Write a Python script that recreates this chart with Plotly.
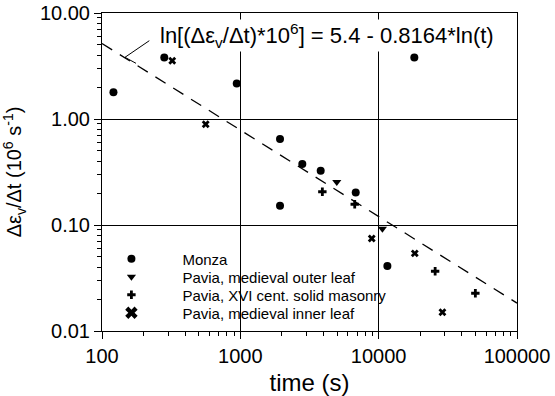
import math
import plotly.graph_objects as go

# ---- data ----
monza_t = [121, 282, 942, 1936, 2806, 3810, 6825, 1936, 11560, 18100]
monza_r = [1.79, 3.80, 2.16, 0.648, 0.377, 0.325, 0.203, 0.152, 0.041, 3.80]

outer_t = [4980, 10640]
outer_r = [0.255, 0.092]

xvi_t = [3917, 6713, 25600, 50000]
xvi_r = [0.206, 0.157, 0.0366, 0.0227]

inner_t = [322, 562, 8910, 18240, 28900]
inner_r = [3.54, 0.893, 0.0746, 0.054, 0.01503]

fit_a = 5.4
fit_b = 0.8164
fit_t = [100, 100000]
fit_r = [math.exp(fit_a - fit_b * math.log(t)) for t in fit_t]

series_names = ["Monza", "Pavia, medieval outer leaf",
                "Pavia, XVI cent. solid masonry", "Pavia, medieval inner leaf"]

FONT = "Liberation Sans, Arial, sans-serif"

fig = go.Figure()

fig.add_trace(go.Scatter(x=fit_t, y=fit_r, mode="lines", showlegend=False,
                         line=dict(color="black", width=1.3, dash="12px,9px")))

fig.add_trace(go.Scatter(x=monza_t, y=monza_r, mode="markers", name=series_names[0], legend="legend",
                         marker=dict(symbol="circle", size=8, color="black")))
fig.add_trace(go.Scatter(x=outer_t, y=outer_r, mode="markers", name=series_names[1], legend="legend2",
                         marker=dict(symbol="triangle-down", size=8, color="black")))
fig.add_trace(go.Scatter(x=xvi_t, y=xvi_r, mode="markers", name=series_names[2], legend="legend3",
                         marker=dict(symbol="cross", size=7, color="black")))
fig.add_trace(go.Scatter(x=inner_t, y=inner_r, mode="markers", showlegend=False,
                         marker=dict(symbol="x", size=7, color="black")))
# legend entry for the inner leaf (larger symbol in the legend)
fig.add_trace(go.Scatter(x=[None], y=[None], mode="markers", name=series_names[3], legend="legend4",
                         marker=dict(symbol="x", size=11, color="black")))

axis_common = dict(
    type="log", showline=True, linecolor="black", linewidth=1, mirror=True,
    showgrid=True, gridcolor="black", gridwidth=1,
    ticks="outside", ticklen=7, tickwidth=1, tickcolor="black",
    dtick=1, zeroline=False, automargin=False, ticklabeloverflow="allow",
    tickfont=dict(family=FONT, size=20, color="black"),
    minor=dict(dtick="D1", ticks="outside", ticklen=4, tickcolor="black", showgrid=False),
)

fig.update_xaxes(**axis_common, range=[2, 5], tickformat="d",
                 title=dict(text="time (s)", font=dict(family=FONT, size=24, color="black"), standoff=8))
fig.update_yaxes(**axis_common, range=[-2, 1], tickformat=".2f",
                 title=dict(text="Δε<sub>v</sub>/Δt (10<sup>6</sup> s<sup>-1</sup>)",
                            font=dict(family=FONT, size=20, color="black"), standoff=21))

fig.add_annotation(xref="paper", yref="paper", x=0.541, y=0.928, xanchor="center", yanchor="middle",
                   text="ln[(Δε<sub>v</sub>/Δt)*10<sup>6</sup>] = 5.4 - 0.8164*ln(t)",
                   showarrow=False, bgcolor="white", borderpad=0,
                   font=dict(family=FONT, size=22, color="black"))

fig.add_shape(type="line", xref="paper", yref="paper", x0=0.0554, y0=0.8607, x1=0.114, y1=0.9129,
              line=dict(color="black", width=1))
fig.add_shape(type="line", xref="paper", yref="paper", x0=0.0554, y0=0.8607, x1=0.0819, y1=0.8418,
              line=dict(color="black", width=1))

legend_style = dict(x=-0.052, xanchor="left", yanchor="middle", bgcolor="rgba(0,0,0,0)",
                    font=dict(family=FONT, size=15, color="black"), itemwidth=92)

fig.update_layout(
    width=555, height=396,
    margin=dict(l=102, r=38, t=13, b=65),
    paper_bgcolor="white", plot_bgcolor="white",
    font=dict(family=FONT, color="black"),
    legend=dict(y=0.2264, **legend_style),
    legend2=dict(y=0.1698, **legend_style),
    legend3=dict(y=0.1132, **legend_style),
    legend4=dict(y=0.0566, **legend_style),
)

fig.write_html("out.html", config={"displayModeBar": False},
               post_script="document.body.style.margin='0px';")
